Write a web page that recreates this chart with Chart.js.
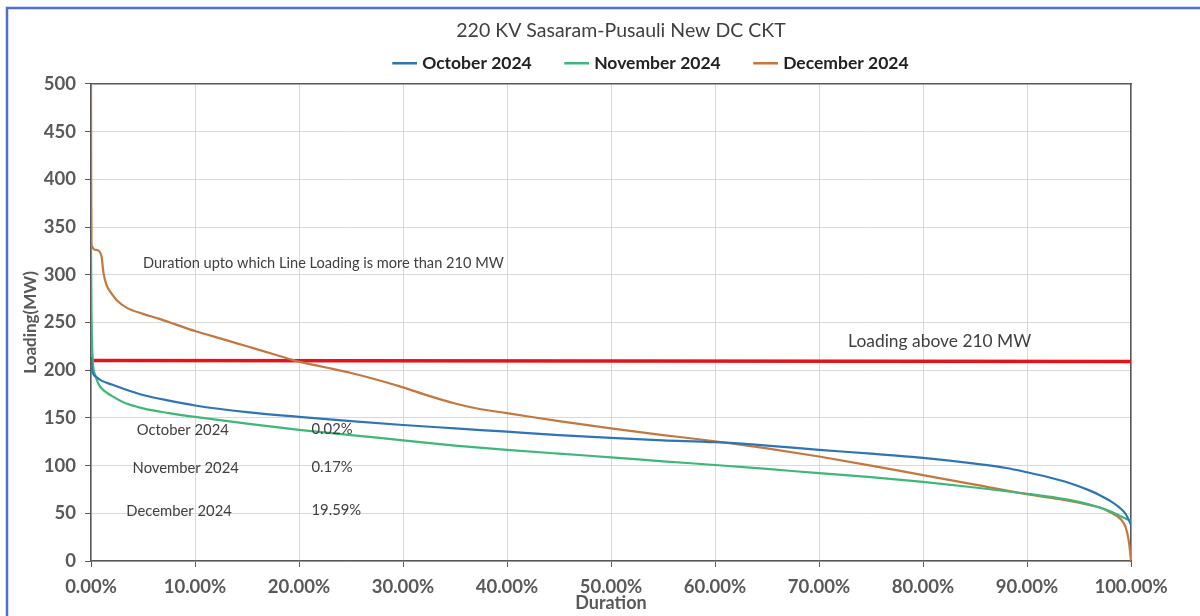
<!DOCTYPE html>
<html>
<head>
<meta charset="utf-8">
<title>220 KV Sasaram-Pusauli New DC CKT</title>
<script src="https://cdn.jsdelivr.net/npm/chart.js@4.4.1/dist/chart.umd.min.js"></script>
<style>
  html, body { margin: 0; padding: 0; background: #fff; }
  #wrap { width: 1200px; height: 616px; }
</style>
</head>
<body>
<div id="wrap"><canvas id="loadingChart"></canvas></div>
<script>
// Load duration curves: duration (% of month) vs line loading (MW)
const octDuration = [0, 0.1, 0.5, 1, 2, 3, 5, 7.5, 10, 15, 20, 25, 30, 35, 40, 45, 50, 55, 60, 65, 70, 75, 80, 85, 88, 90, 92, 94, 96, 97, 98, 99, 99.5, 100];
const octLoading  = [214, 200, 193, 189, 185, 181, 174, 168, 163, 156, 151, 146.5, 142.5, 139, 135.5, 132, 129, 126.5, 124.5, 121, 116.5, 112.5, 108, 102, 97.5, 93, 88, 82, 74, 69, 63, 55, 49, 38];

const novDuration = [0, 0.05, 0.17, 0.4, 0.7, 1, 2, 3, 5, 7.5, 10, 15, 20, 25, 30, 35, 40, 45, 50, 55, 60, 65, 70, 75, 80, 85, 90, 93, 95, 97, 98, 99, 100];
const novLoading  = [330, 260, 210, 195, 186, 181, 173, 167, 160, 155, 151, 144, 137.5, 132, 126.5, 121, 116.5, 112.5, 108.7, 104.5, 100.6, 96.5, 92, 88, 83, 77, 70.5, 66, 62, 56, 52, 47, 42];

const decDuration = [0, 0.02, 0.05, 0.5, 1, 1.2, 1.5, 2, 2.5, 3.5, 5, 6.5, 8, 10, 12.5, 15, 17.5, 19.59, 22.5, 25, 27.5, 30, 32.5, 35, 37.5, 40, 45, 50, 55, 60, 65, 70, 75, 80, 85, 90, 93, 95, 97, 98, 99, 99.5, 99.8, 100];
const decLoading  = [500, 400, 331, 326, 320, 302, 289, 280, 273, 265, 259, 254, 248.5, 241, 233, 225, 217, 210, 203, 197, 190, 182, 173, 165, 159, 155, 146.5, 139, 132, 125.5, 118, 109.5, 100, 90, 80, 70, 65, 61, 56, 51, 44, 35, 20, 0];

const limitDuration = [0, 100];
const limitLoading  = [210, 209];

const seriesNames = ['October 2024', 'November 2024', 'December 2024'];
const aboveLimitShare = ['0.02%', '0.17%', '19.59%'];

const toPoints = (xs, ys) => xs.map((x, i) => ({ x: x, y: ys[i] }));

const FONT = 'Lato, "Open Sans", sans-serif';
const GREY = '#595959';

// outer border of the picture and the text notes inside the plot
const notesPlugin = {
    id: 'notesPlugin',
    beforeDraw(chart) {
        const ctx = chart.ctx;
        ctx.save();
        ctx.fillStyle = '#fff';
        ctx.fillRect(0, 0, chart.width, chart.height);
        ctx.strokeStyle = '#4c6ed6';
        ctx.lineWidth = 2.5;
        ctx.beginPath();
        ctx.moveTo(7, chart.height);
        ctx.lineTo(7, 8);
        ctx.lineTo(chart.width, 8);
        ctx.stroke();
        ctx.restore();
    },
    afterDatasetsDraw(chart) {
        const { ctx, scales } = chart;
        const note = (text, dur, mw, size) => {
            ctx.font = size + 'px ' + FONT;
            ctx.fillText(text, scales.x.getPixelForValue(dur), scales.y.getPixelForValue(mw));
        };
        ctx.save();
        ctx.fillStyle = '#404040';
        ctx.textAlign = 'left';
        ctx.textBaseline = 'middle';
        note('Duration upto which Line Loading is more than 210 MW', 5, 312, 14.6);
        note('Loading above 210 MW', 72.8, 230.5, 17.4);
        const rowsMw = [137, 97.5, 52];
        const nameX = [4.4, 4.0, 3.4];
        seriesNames.forEach((name, i) => {
            note(name, nameX[i], rowsMw[i], 14.8);
            note(aboveLimitShare[i], 21.2, rowsMw[i] + 1, 14.8);
        });
        ctx.restore();
    }
};

const ctx = document.getElementById('loadingChart').getContext('2d');
const loadingChart = new Chart(ctx, {
    type: 'line',
    data: {
        datasets: [
            { label: seriesNames[0], data: toPoints(octDuration, octLoading), borderColor: '#2e75b6', backgroundColor: '#2e75b6' },
            { label: seriesNames[1], data: toPoints(novDuration, novLoading), borderColor: '#3cb878', backgroundColor: '#3cb878' },
            { label: seriesNames[2], data: toPoints(decDuration, decLoading), borderColor: '#c4773f', backgroundColor: '#c4773f' },
            { label: 'Limit 210 MW', data: toPoints(limitDuration, limitLoading), borderColor: '#e3131b', borderWidth: 3.5, tension: 0 }
        ]
    },
    options: {
        responsive: true,
        maintainAspectRatio: false,
        animation: false,
        layout: { padding: { left: 42, right: 0, top: 0, bottom: 0 } },
        elements: {
            point: { radius: 0 },
            line: { borderWidth: 2.2, cubicInterpolationMode: 'monotone' }
        },
        plugins: {
            title: {
                display: true,
                text: '220 KV Sasaram-Pusauli New DC CKT',
                color: '#404040',
                font: { family: FONT, size: 19.5, weight: 'normal' },
                padding: { top: 19, bottom: 2 }
            },
            legend: {
                display: true,
                labels: {
                    color: '#222',
                    font: { family: FONT, size: 17.5, weight: 'bold' },
                    usePointStyle: true,
                    pointStyle: 'line',
                    boxWidth: 40,
                    padding: 10,
                    generateLabels(chart) {
                        const items = Chart.defaults.plugins.legend.labels.generateLabels(chart);
                        items.forEach(item => {
                            item.lineWidth = 2.5;
                            if (item.datasetIndex < 2) item.text = item.text + '\u2003\u2002 ';
                            if (item.datasetIndex === 3) {
                                // the limit line has no legend entry; its slot is left blank and
                                // sits first, which moves the visible entries to the right as in the source
                                item.text = '\u2003\u2003';
                                item.lineWidth = 0;
                                item.strokeStyle = 'rgba(0,0,0,0)';
                                item.fillStyle = 'rgba(0,0,0,0)';
                            }
                        });
                        return items;
                    },
                    sort: (a, b) => ((a.datasetIndex + 1) % 4) - ((b.datasetIndex + 1) % 4)
                },
                onClick: () => {}
            },
            tooltip: { enabled: false }
        },
        scales: {
            x: {
                type: 'linear',
                min: 0,
                max: 100,
                ticks: {
                    stepSize: 10,
                    color: GREY,
                    padding: 9,
                    font: { family: FONT, size: 18.5, weight: 'bold' },
                    callback: v => v.toFixed(2) + '%'
                },
                grid: { color: '#d9d9d9', tickColor: GREY, tickLength: 6 },
                border: { color: GREY, width: 1.5 },
                title: {
                    display: true,
                    text: 'Duration',
                    color: GREY,
                    font: { family: FONT, size: 18, weight: 'bold' },
                    padding: { top: 0, bottom: 2 }
                },
                afterFit(scale) { scale.height = 55; }
            },
            xTop: {
                type: 'linear',
                position: 'top',
                min: 0,
                max: 100,
                grid: { display: false },
                ticks: { display: false },
                border: { color: GREY, width: 1.5 },
                afterFit(scale) { scale.height = 2; }
            },
            y: {
                min: 0,
                max: 500,
                ticks: {
                    stepSize: 50,
                    color: GREY,
                    padding: 9,
                    font: { family: FONT, size: 18.5, weight: 'bold' }
                },
                grid: { color: '#d9d9d9', tickColor: GREY, tickLength: 6 },
                border: { color: GREY, width: 1.5 },
                title: {
                    display: true,
                    text: 'Loading(MW)',
                    color: GREY,
                    font: { family: FONT, size: 17, weight: 'bold' },
                    padding: { top: -22, bottom: 0 }
                },
                afterFit(scale) { scale.width = 49; }
            },
            yRight: {
                position: 'right',
                min: 0,
                max: 1,
                grid: { display: false },
                ticks: { display: false },
                border: { color: GREY, width: 1.5 },
                afterFit(scale) { scale.width = 69; }
            }
        }
    },
    plugins: [notesPlugin]
});
</script>
</body>
</html>
